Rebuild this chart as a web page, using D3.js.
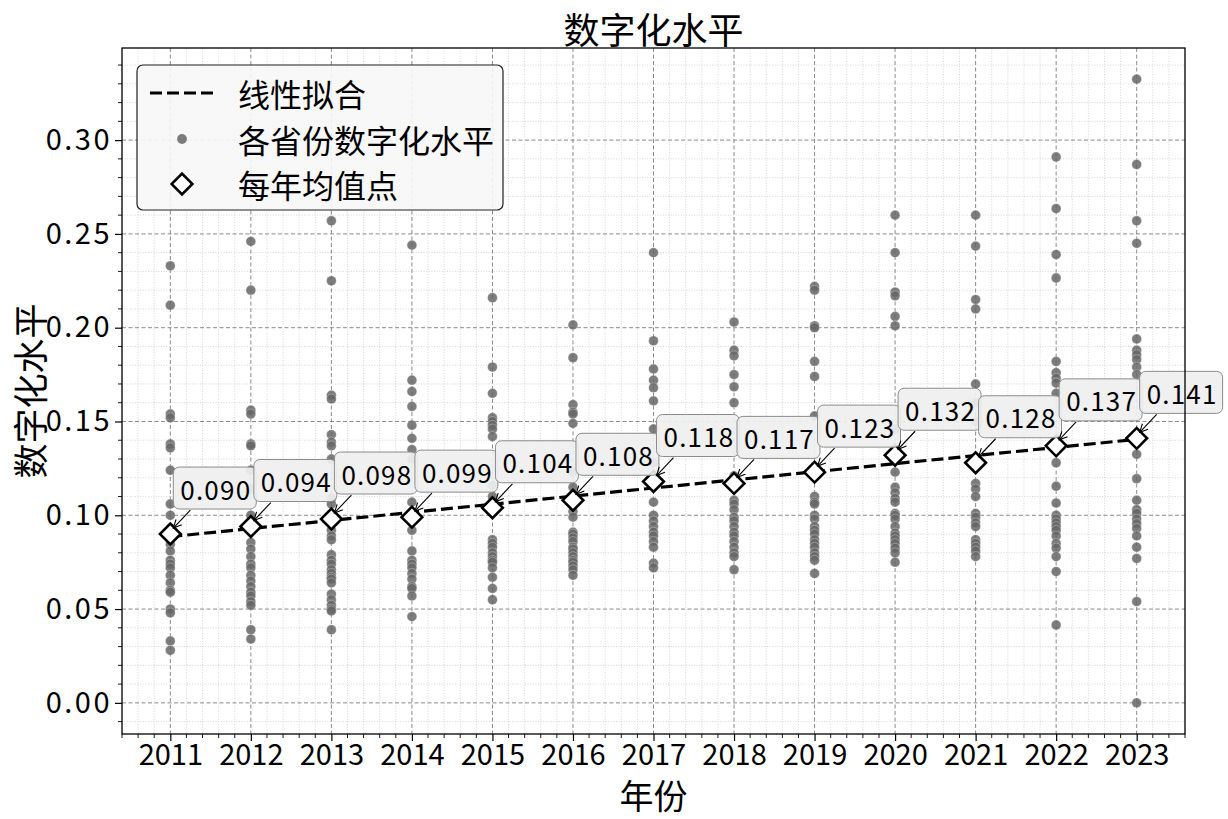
<!DOCTYPE html>
<html><head><meta charset="utf-8">
<script src="https://cdn.jsdelivr.net/npm/d3@7"></script>
<style>
body{margin:0;background:#fff}
svg{display:block}
text{font-family:"Noto Sans CJK SC","Noto Sans",sans-serif;fill:#000}
</style>
</head><body>
<svg id="chart" width="1228" height="819"></svg>
<script>
// ---------- data ----------
const years = [2011,2012,2013,2014,2015,2016,2017,2018,2019,2020,2021,2022,2023];
const y2011 = [0.233,0.212,0.154,0.152,0.138,0.136,0.124,0.106,0.100,0.093,0.0845,0.081,0.076,0.074,0.072,0.068,0.064,0.060,0.059,0.050,0.048,0.033,0.028];
const y2012 = [0.246,0.220,0.156,0.154,0.138,0.137,0.124,0.114,0.100,0.0855,0.082,0.078,0.074,0.072,0.068,0.065,0.062,0.059,0.057,0.054,0.052,0.039,0.034];
const y2013 = [0.257,0.225,0.164,0.162,0.143,0.139,0.137,0.130,0.109,0.106,0.092,0.089,0.087,0.079,0.076,0.074,0.071,0.069,0.067,0.066,0.064,0.058,0.055,0.052,0.050,0.049,0.039];
const y2014 = [0.244,0.172,0.166,0.158,0.148,0.141,0.135,0.130,0.107,0.101,0.092,0.081,0.076,0.074,0.072,0.069,0.066,0.062,0.061,0.057,0.046];
const y2015 = [0.216,0.179,0.165,0.152,0.150,0.148,0.146,0.142,0.116,0.110,0.087,0.085,0.083,0.080,0.078,0.076,0.075,0.072,0.067,0.061,0.055];
const y2016 = [0.2015,0.184,0.159,0.155,0.154,0.149,0.123,0.115,0.102,0.099,0.091,0.090,0.088,0.086,0.083,0.082,0.080,0.078,0.076,0.075,0.073,0.071,0.068];
const y2017 = [0.240,0.193,0.178,0.172,0.168,0.161,0.146,0.128,0.107,0.100,0.097,0.094,0.091,0.089,0.086,0.083,0.0745,0.072];
const y2018 = [0.203,0.188,0.185,0.175,0.1685,0.160,0.121,0.108,0.106,0.103,0.099,0.097,0.094,0.091,0.089,0.086,0.083,0.080,0.078,0.071];
const y2019 = [0.222,0.220,0.201,0.200,0.182,0.174,0.153,0.110,0.107,0.106,0.100,0.098,0.094,0.092,0.090,0.087,0.085,0.083,0.080,0.078,0.076,0.069];
const y2020 = [0.260,0.240,0.219,0.217,0.206,0.201,0.146,0.123,0.115,0.112,0.109,0.107,0.101,0.100,0.098,0.094,0.0905,0.089,0.087,0.085,0.0825,0.080,0.075];
const y2021 = [0.260,0.2435,0.215,0.210,0.170,0.160,0.150,0.117,0.114,0.110,0.101,0.099,0.096,0.094,0.087,0.085,0.083,0.081,0.078];
const y2022 = [0.291,0.2635,0.239,0.2265,0.182,0.176,0.173,0.1705,0.165,0.128,0.1155,0.1065,0.100,0.098,0.096,0.094,0.092,0.089,0.085,0.0825,0.078,0.070,0.0415];
const y2023 = [0.3325,0.287,0.257,0.245,0.194,0.188,0.1855,0.183,0.179,0.175,0.1325,0.1195,0.108,0.103,0.101,0.098,0.0955,0.093,0.089,0.083,0.077,0.054,0.000];
const provinceValues = [y2011,y2012,y2013,y2014,y2015,y2016,y2017,y2018,y2019,y2020,y2021,y2022,y2023];
const yearMeans = [0.090,0.094,0.098,0.099,0.104,0.108,0.118,0.117,0.123,0.132,0.128,0.137,0.141];
const yTicks = [0.00,0.05,0.10,0.15,0.20,0.25,0.30];
const chartTitle = "数字化水平";
const xTitle = "年份";
const yTitle = "数字化水平";
const legendLabels = ["线性拟合","各省份数字化水平","每年均值点"];

// ---------- layout ----------
const M = {l:122, r:1185, t:48, b:734};
const svg = d3.select("#chart");
const x = d3.scaleLinear().domain([2010.4, 2023.6]).range([M.l, M.r]);
const y = d3.scaleLinear().domain([-0.0166, 0.3491]).range([M.b, M.t]);

const xMinor = d3.range(0, 67).map(i => 2010.4 + i*0.2).filter(v => Math.abs(v - Math.round(v)) > 1e-6);
const yMinor = d3.range(-1, 35).map(i => i*0.01).filter(v => Math.abs(v*20 - Math.round(v*20)) > 1e-6);

// grids
const grid = svg.append("g");
grid.selectAll(".mx").data(xMinor).join("line")
  .attr("x1", d=>x(d)).attr("x2", d=>x(d)).attr("y1", M.t).attr("y2", M.b)
  .attr("stroke","#c4c4c4").attr("stroke-width",0.7).attr("stroke-dasharray","1,1.6");
grid.selectAll(".my").data(yMinor).join("line")
  .attr("y1", d=>y(d)).attr("y2", d=>y(d)).attr("x1", M.l).attr("x2", M.r)
  .attr("stroke","#c4c4c4").attr("stroke-width",0.7).attr("stroke-dasharray","1,1.6");
grid.selectAll(".Mx").data(years).join("line")
  .attr("x1", d=>x(d)).attr("x2", d=>x(d)).attr("y1", M.t).attr("y2", M.b)
  .attr("stroke","#8a8a8a").attr("stroke-width",1).attr("stroke-dasharray","4,2.5");
grid.selectAll(".My").data(yTicks).join("line")
  .attr("y1", d=>y(d)).attr("y2", d=>y(d)).attr("x1", M.l).attr("x2", M.r)
  .attr("stroke","#8a8a8a").attr("stroke-width",1).attr("stroke-dasharray","4,2.5");

// scatter
const pts = [];
provinceValues.forEach((arr,i) => arr.forEach(v => pts.push({yr: years[i], v})));
svg.append("g").selectAll("circle").data(pts).join("circle")
  .attr("cx", d=>x(d.yr)).attr("cy", d=>y(d.v)).attr("r", 4.9)
  .attr("fill","#666").attr("fill-opacity",0.85)
  .attr("stroke","#ffffff").attr("stroke-opacity",0.5).attr("stroke-width",0.6);

// linear fit on yearly means
const xm = d3.mean(years), ym = d3.mean(yearMeans);
const slope = d3.sum(years, (t,i)=>(t-xm)*(yearMeans[i]-ym)) / d3.sum(years, t=>(t-xm)*(t-xm));
const icpt = ym - slope*xm;
const fitPts = [years[0], years[years.length-1]].map(t => [t, icpt + slope*t]);
svg.append("path").datum(fitPts)
  .attr("d", d3.line().x(d=>x(d[0])).y(d=>y(d[1])))
  .attr("fill","none").attr("stroke","#000").attr("stroke-width",3.2).attr("stroke-dasharray","12,5");

// diamonds
const diamond = d3.symbol().type(d3.symbolSquare).size(215);
svg.append("g").selectAll("path").data(yearMeans).join("path")
  .attr("d", diamond)
  .attr("transform", (d,i)=>`translate(${x(years[i])},${y(d)}) rotate(45)`)
  .attr("fill","#fff").attr("stroke","#000").attr("stroke-width",2.6);

// annotations
const ann = svg.append("g");
yearMeans.forEach((v,i) => {
  const px = x(years[i]), py = y(v);
  const g = ann.append("g");
  const tx = px + 10, ty = py - 46;
  const rect = g.append("rect");
  const t = g.append("text").attr("x", tx).attr("y", ty)
    .attr("dominant-baseline","central").attr("font-size",26).attr("letter-spacing",1.2)
    .text(d3.format(".3f")(v));
  const bb = t.node().getBBox();
  const bx = bb.x - 7, bw = bb.width + 12, by = ty - 21, bh = 42;
  rect.attr("x", bx).attr("y", by).attr("width", bw).attr("height", bh).attr("rx", 6)
    .attr("fill","#efefef").attr("fill-opacity",0.92).attr("stroke","#8c8c8c").attr("stroke-width",1);
  const x0 = px + 20, y0 = by + bh + 1, x1 = px + 3, y1 = py - 6;
  const ang = Math.atan2(y1 - y0, x1 - x0), L = 9, a = Math.PI/7;
  g.append("line").attr("x1",x0).attr("y1",y0).attr("x2",x1).attr("y2",y1)
    .attr("stroke","#000").attr("stroke-width",1.1);
  g.append("path")
    .attr("d", `M${x1 - L*Math.cos(ang - a)},${y1 - L*Math.sin(ang - a)}L${x1},${y1}L${x1 - L*Math.cos(ang + a)},${y1 - L*Math.sin(ang + a)}`)
    .attr("fill","none").attr("stroke","#000").attr("stroke-width",1.1);
});

// axes
const xAxis = svg.append("g").attr("transform",`translate(0,${M.b})`)
  .call(d3.axisBottom(x).tickValues(years).tickFormat(d3.format("d")).tickSize(7).tickSizeOuter(0));
xAxis.select(".domain").remove();
xAxis.selectAll("line").attr("stroke","#000").attr("stroke-width",1.2);
xAxis.selectAll("text").attr("font-size",29).attr("y",10).attr("font-family",'"Noto Sans CJK SC",sans-serif');
svg.append("g").selectAll("line").data(xMinor).join("line")
  .attr("x1",d=>x(d)).attr("x2",d=>x(d)).attr("y1",M.b).attr("y2",M.b+4)
  .attr("stroke","#000").attr("stroke-width",0.9);

const yAxis = svg.append("g").attr("transform",`translate(${M.l},0)`)
  .call(d3.axisLeft(y).tickValues(yTicks).tickFormat(d3.format(".2f")).tickSize(7).tickSizeOuter(0));
yAxis.select(".domain").remove();
yAxis.selectAll("line").attr("stroke","#000").attr("stroke-width",1.2);
yAxis.selectAll("text").attr("font-size",29).attr("x",-10).attr("letter-spacing",2.5).attr("font-family",'"Noto Sans CJK SC",sans-serif');
svg.append("g").selectAll("line").data(yMinor).join("line")
  .attr("y1",d=>y(d)).attr("y2",d=>y(d)).attr("x1",M.l).attr("x2",M.l-4)
  .attr("stroke","#000").attr("stroke-width",0.9);

// frame
svg.append("rect").attr("x",M.l).attr("y",M.t).attr("width",M.r-M.l).attr("height",M.b-M.t)
  .attr("fill","none").attr("stroke","#000").attr("stroke-width",1.3);

// titles
svg.append("text").attr("x",(M.l+M.r)/2).attr("y",28).attr("text-anchor","middle")
  .attr("dominant-baseline","central").attr("font-size",36).text(chartTitle);
svg.append("text").attr("x",(M.l+M.r)/2).attr("y",794).attr("text-anchor","middle")
  .attr("dominant-baseline","central").attr("font-size",34).text(xTitle);
svg.append("text").attr("transform",`translate(28,${(M.t+M.b)/2}) rotate(-90)`).attr("text-anchor","middle")
  .attr("dominant-baseline","central").attr("font-size",35).text(yTitle);

// legend
const lg = svg.append("g");
lg.append("rect").attr("x",137).attr("y",65).attr("width",366).attr("height",145).attr("rx",6)
  .attr("fill","#f7f7f7").attr("fill-opacity",0.9).attr("stroke","#222").attr("stroke-width",1.2);
const rows = [93, 139, 184];
lg.append("line").attr("x1",150).attr("x2",214).attr("y1",rows[0]).attr("y2",rows[0])
  .attr("stroke","#000").attr("stroke-width",3.2).attr("stroke-dasharray","12,5");
lg.append("circle").attr("cx",182).attr("cy",rows[1]).attr("r",4.9).attr("fill","#666").attr("fill-opacity",0.85);
lg.append("path").attr("d",diamond).attr("transform",`translate(182,${rows[2]}) rotate(45)`)
  .attr("fill","#fff").attr("stroke","#000").attr("stroke-width",2.6);
legendLabels.forEach((s,i) => {
  lg.append("text").attr("x",238).attr("y",rows[i]).attr("dominant-baseline","central")
    .attr("font-size",32).text(s);
});
</script>
</body></html>
